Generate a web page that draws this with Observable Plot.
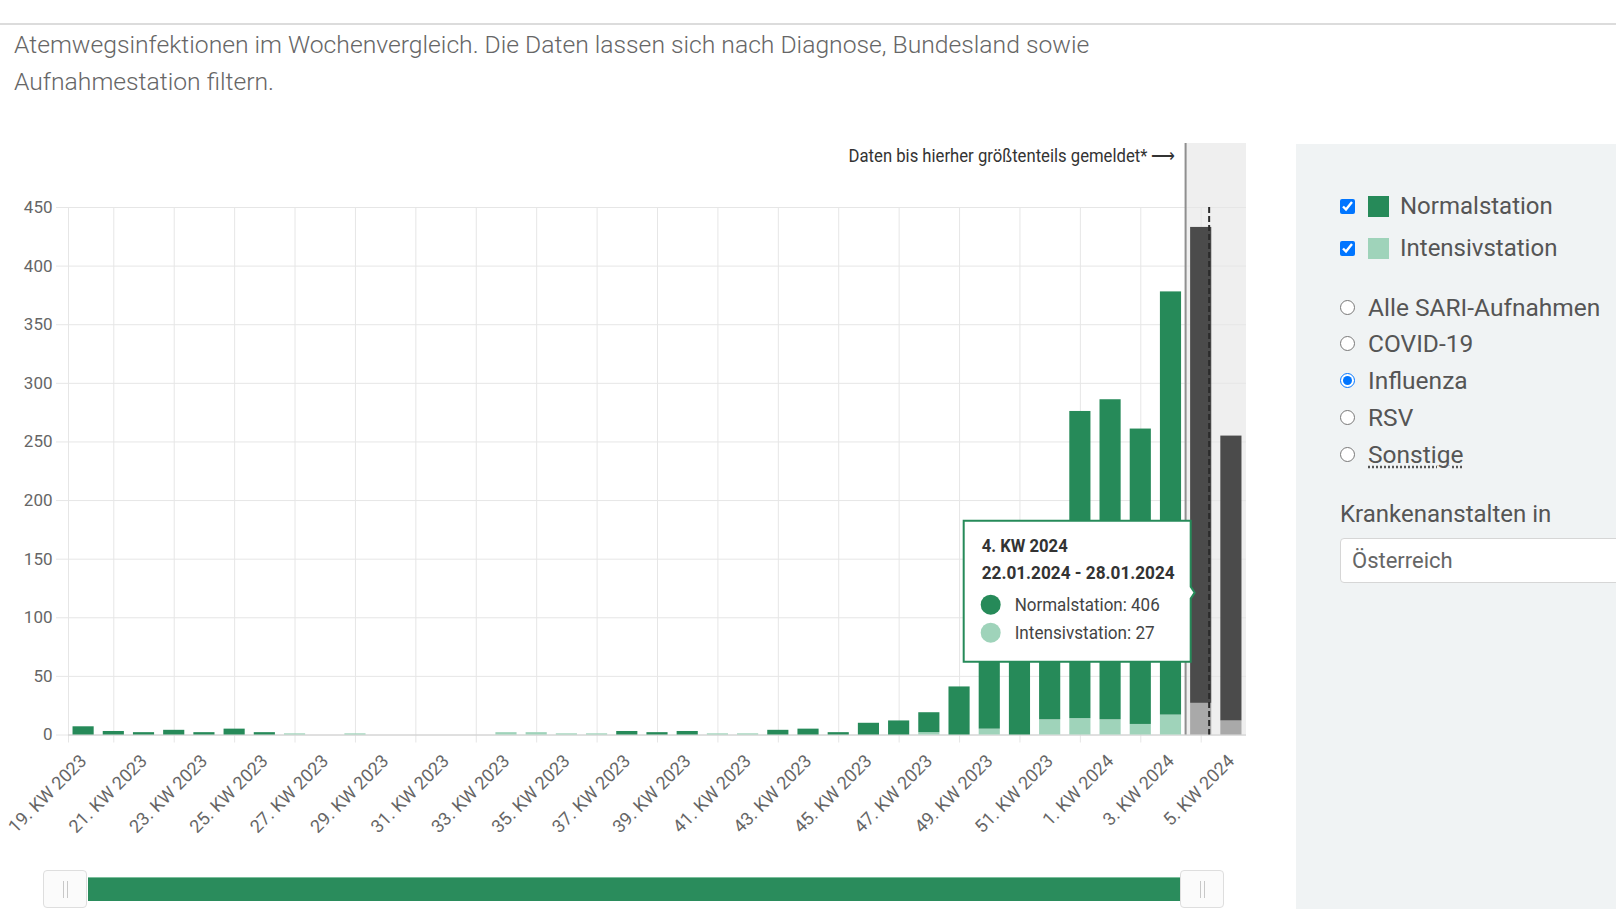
<!DOCTYPE html>
<html><head><meta charset="utf-8">
<script src="https://cdn.jsdelivr.net/npm/d3@7"></script>
<script src="https://cdn.jsdelivr.net/npm/@observablehq/plot@0.6"></script>
<style>
html,body{margin:0;padding:0;background:#fff;}
body{width:1616px;height:909px;position:relative;overflow:hidden;font-family:Roboto,"Noto Sans",sans-serif;}
#topline{position:absolute;left:0;top:23px;width:1616px;height:2px;background:#dcdcdc;}
#subtitle{position:absolute;left:14px;top:26px;font-size:24.7px;line-height:37px;font-weight:300;color:#666;white-space:nowrap;}
#chart{position:absolute;left:0;top:140px;}
#panel{position:absolute;left:1296px;top:144px;width:320px;height:765px;background:#f0f3f4;color:#555;font-size:24px;}
.row{position:absolute;left:0;height:30px;display:flex;align-items:center;white-space:nowrap;}
.row input{margin:0;width:15px;height:15px;}
.sw{display:inline-block;width:21px;height:21px;}
#krank{position:absolute;left:44px;top:356px;}
#select{position:absolute;left:44px;top:394px;width:330px;height:45px;background:#fff;border:1px solid #d6d6d6;border-radius:4px;box-sizing:border-box;font-size:22px;color:#666;padding-left:11px;line-height:43px;}
#nav .bar{position:absolute;left:88px;top:877px;width:1092px;height:24px;background:#2a8c5c;border-top:1px solid #7cbf9c;box-sizing:border-box;}
#nav .h{position:absolute;top:870px;width:44px;height:38px;background:#fbfbfb;border:1px solid #dedede;border-radius:4px;box-sizing:border-box;}
#nav .h::after{content:"";position:absolute;left:19px;top:10px;width:3px;height:17px;border-left:1px solid #c8c8c8;border-right:1px solid #c8c8c8;}
</style></head><body>
<div id="topline"></div>
<div id="subtitle">Atemwegsinfektionen im Wochenvergleich. Die Daten lassen sich nach Diagnose, Bundesland sowie<br>Aufnahmestation filtern.</div>
<div id="chart"></div>
<div id="panel"></div>
<div id="nav"><div class="bar"></div><div class="h" style="left:43px"></div><div class="h" style="left:1180px"></div></div>
<script>
// ---- data ----
const weeks = ["19. KW 2023","20. KW 2023","21. KW 2023","22. KW 2023","23. KW 2023","24. KW 2023","25. KW 2023","26. KW 2023","27. KW 2023","28. KW 2023","29. KW 2023","30. KW 2023","31. KW 2023","32. KW 2023","33. KW 2023","34. KW 2023","35. KW 2023","36. KW 2023","37. KW 2023","38. KW 2023","39. KW 2023","40. KW 2023","41. KW 2023","42. KW 2023","43. KW 2023","44. KW 2023","45. KW 2023","46. KW 2023","47. KW 2023","48. KW 2023","49. KW 2023","50. KW 2023","51. KW 2023","52. KW 2023","1. KW 2024","2. KW 2024","3. KW 2024","4. KW 2024","5. KW 2024"];
const normal   = [7,3,2,4,2,5,2,0,0,0,0,0,0,0,0,0,0,0,3,2,3,0,0,4,5,2,10,12,17,41,80,125,165,262,273,252,361,406,243];
const intensiv = [0,0,0,0,0,0,0,1,0,1,0,0,0,0,2,2,1,1,0,0,0,1,1,0,0,0,0,0,2,0,5,0,13,14,13,9,17,27,12];
const yTicks = [0,50,100,150,200,250,300,350,400,450];
const seriesNames = ["Normalstation","Intensivstation"];
const diagnoses = ["Alle SARI-Aufnahmen","COVID-19","Influenza","RSV","Sonstige"];
const selectedDiagnosis = "Influenza";
const region = "Österreich";
const reportedUntil = "3. KW 2024";
const annotation = "Daten bis hierher größtenteils gemeldet* ⟶";
const todayPos = 37.28; // current date position (within 4. KW 2024)
const tooltipWeek = "4. KW 2024";
const tooltipRange = "22.01.2024 - 28.01.2024";
const tooltipY = 121;

// ---- style ----
const green = "#268a59", greenLight = "#9fd3ba", grey = "#4b4b4b", greyLight = "#a9a9a9";
const barWidth = 0.7;

const rows = weeks.map((w, i) => ({i, week: w, normal: normal[i], intensiv: intensiv[i]}));
const boundary = weeks.indexOf(reportedUntil) + 0.5;
const tipIndex = weeks.indexOf(tooltipWeek);
const evenIdx = rows.map(d => d.i).filter(i => i % 2 === 0);
const gridX = [-0.5, ...rows.map(d => d.i).filter(i => i % 2 === 1)];

const W = 1260, H = 700;

function band(index, {x, y}, values, dims) {
  const g = d3.create("svg:g");
  const x0 = x(boundary), x1 = dims.width - dims.marginRight, yb = y(0);
  g.append("rect").attr("x", x0).attr("y", 3).attr("width", x1 - x0).attr("height", yb - 3).attr("fill", "#efefef");
  return g.node();
}
function overlay(index, {x, y}, values, dims) {
  const g = d3.create("svg:g").attr("text-anchor", "start");
  const xb = x(boundary), yb = y(0);
  g.append("line").attr("x1", xb).attr("x2", xb).attr("y1", 3).attr("y2", yb).attr("stroke", "#8f8f8f").attr("stroke-width", 2);
  const xt = x(todayPos);
  g.append("line").attr("x1", xt).attr("x2", xt).attr("y1", y(450)).attr("y2", yb).attr("stroke", "#2b2b2b").attr("stroke-width", 2).attr("stroke-dasharray", "6,3");
  g.append("text").attr("x", xb - 10).attr("y", 22).attr("text-anchor", "end").attr("font-size", 18).attr("fill", "#333")
    .attr("textLength", 327).attr("lengthAdjust", "spacingAndGlyphs").text(annotation);
  // tooltip
  const ax = x(tipIndex), ay = y(tooltipY);
  const L = ax - 237, R = ax - 10, T = ay - 72, B = ay + 69;
  g.append("path").attr("d", `M${L},${T}H${R}V${ay-6}L${R+4},${ay}L${R},${ay+6}V${B}H${L}Z`)
    .attr("fill", "#fff").attr("stroke", green).attr("stroke-width", 2);
  const t = (txt, dx, dy, len, bold, fill) => g.append("text").attr("x", ax + dx).attr("y", ay + dy).attr("font-size", 18)
    .attr("text-anchor", "start").attr("font-weight", bold ? 700 : 400).attr("fill", fill)
    .attr("textLength", len).attr("lengthAdjust", "spacingAndGlyphs").text(txt);
  t(tooltipWeek, -219, -41, 86, true, "#333");
  t(tooltipRange, -219, -14, 193, true, "#333");
  const d = rows[tipIndex];
  g.append("circle").attr("cx", ax - 210).attr("cy", ay + 12).attr("r", 10).attr("fill", green);
  g.append("circle").attr("cx", ax - 210).attr("cy", ay + 40).attr("r", 10).attr("fill", greenLight);
  t(`${seriesNames[0]}: ${d.normal}`, -186, 18, 145, false, "#444");
  t(`${seriesNames[1]}: ${d.intensiv}`, -186, 46, 140, false, "#444");
  return g.node();
}

const plot = Plot.plot({
  width: W, height: H,
  marginLeft: 68, marginRight: 14, marginTop: 67, marginBottom: 105.5,
  style: {fontFamily: "Roboto, sans-serif", fontSize: "17px", color: "#666", background: "transparent"},
  x: {domain: [-0.5, 38.5], ticks: evenIdx, tickFormat: i => weeks[i], tickRotate: -45, tickSize: 0, tickPadding: 23, label: null},
  y: {domain: [0, 450], ticks: yTicks, tickSize: 0, tickPadding: 16, label: null},
  marks: [
    band,
    Plot.ruleY(yTicks, {stroke: "#e6e6e6", insetLeft: -12}),
    Plot.ruleX(gridX, {stroke: "#e6e6e6", insetBottom: -8}),
    Plot.ruleY([0], {stroke: "#cccccc"}),
    Plot.rectY(rows.filter(d => d.intensiv > 0), {x1: d => d.i - barWidth/2, x2: d => d.i + barWidth/2, y1: 0, y2: "intensiv", fill: d => d.i > boundary ? greyLight : greenLight}),
    Plot.rectY(rows.filter(d => d.normal > 0), {x1: d => d.i - barWidth/2, x2: d => d.i + barWidth/2, y1: "intensiv", y2: d => d.intensiv + d.normal, fill: d => d.i > boundary ? grey : green}),
    overlay
  ]
});
document.getElementById("chart").appendChild(plot);
d3.select(plot).selectAll('[aria-label^="x-axis"] text').style("font-size", "18px");

// ---- side panel ----
const panel = d3.select("#panel");
seriesNames.forEach((s, k) => {
  const r = panel.append("div").attr("class", "row").style("top", (47 + k * 42) + "px").style("left", "44px");
  r.append("input").attr("type", "checkbox").property("checked", true);
  r.append("span").attr("class", "sw").style("margin-left", "13px").style("background", k === 0 ? green : greenLight);
  r.append("span").style("margin-left", "11px").text(s);
});
diagnoses.forEach((s, k) => {
  const r = panel.append("div").attr("class", "row").style("top", (148 + k * 36.8) + "px").style("left", "44px");
  r.append("input").attr("type", "radio").attr("name", "diag").property("checked", s === selectedDiagnosis);
  const sp = r.append("span").style("margin-left", "13px").style("font-size", "24.5px").text(s);
  if (s === "Sonstige") sp.style("text-decoration", "underline dotted").style("text-underline-offset", "4px");
});
panel.append("div").attr("id", "krank").text("Krankenanstalten in");
panel.append("div").attr("id", "select").text(region);
</script>
</body></html>
